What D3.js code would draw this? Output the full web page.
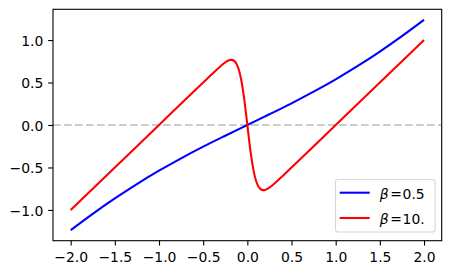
<!DOCTYPE html>
<html>
<head>
<meta charset="utf-8">
<script src="https://cdn.jsdelivr.net/npm/d3@7"></script>
<style>
  body { margin: 0; background: #fff; }
  #chart { width: 450px; height: 274px; }
  text { font-family: "DejaVu Sans", sans-serif; }
</style>
</head>
<body>
<div id="chart"></div>
<script>
// values
const xBlue = [-2, -1.75, -1.5, -1.25, -1, -0.75, -0.5, -0.25, 0, 0.25, 0.5, 0.75, 1, 1.25, 1.5, 1.75, 2];
const yBlue = [-1.238, -1.046, -0.865, -0.695, -0.538, -0.392, -0.255, -0.126, 0, 0.126, 0.255, 0.392, 0.538, 0.695, 0.865, 1.046, 1.238];

const xRed = [-2, -1.5, -1, -0.5, -0.4, -0.35, -0.3, -0.25, -0.2, -0.18, -0.15, -0.12, -0.1, -0.08, -0.06, -0.04, -0.02, 0,
              0.02, 0.04, 0.06, 0.08, 0.1, 0.12, 0.15, 0.18, 0.2, 0.25, 0.3, 0.35, 0.4, 0.5, 1, 1.5, 2];
const yRed = [-1.0, -0.5, 0.0, 0.5, 0.599, 0.648, 0.695, 0.737, 0.764, 0.767, 0.755, 0.714, 0.662, 0.584, 0.477, 0.340, 0.177, 0,
              -0.177, -0.340, -0.477, -0.584, -0.662, -0.714, -0.755, -0.767, -0.764, -0.737, -0.695, -0.648, -0.599, -0.5, 0.0, 0.5, 1.0];

const seriesLabels = ["0.5", "10."];
const seriesColors = ["blue", "red"];
const xTicks = [-2.0, -1.5, -1.0, -0.5, 0.0, 0.5, 1.0, 1.5, 2.0];
const yTicks = [-1.0, -0.5, 0.0, 0.5, 1.0];

const width = 450, height = 274;
const plotLeft = 53, plotRight = 441.7, plotTop = 9.3, plotBottom = 240.7;
const fontSize = 13.9, lw = 2.08;

const svg = d3.select("#chart").append("svg")
    .attr("width", width)
    .attr("height", height);

const x = d3.scaleLinear().domain([-2.2, 2.2]).range([plotLeft, plotRight]);
const y = d3.scaleLinear().domain([-1.362, 1.362]).range([plotBottom, plotTop]);

const fmt = d => d3.format(".1f")(d).replace("-", "\u2212");

// zero reference line
svg.append("line")
    .attr("x1", plotLeft).attr("x2", plotRight)
    .attr("y1", y(0)).attr("y2", y(0))
    .attr("stroke", "#cccccc")
    .attr("stroke-width", lw)
    .attr("stroke-dasharray", "7.7,3.3");

const line = d3.line()
    .x(d => x(d[0]))
    .y(d => y(d[1]))
    .curve(d3.curveMonotoneX);

const series = [
    d3.zip(xBlue, yBlue),
    d3.zip(xRed, yRed)
];

series.forEach((s, i) => {
    svg.append("path")
        .datum(s)
        .attr("d", line)
        .attr("fill", "none")
        .attr("stroke", seriesColors[i])
        .attr("stroke-width", lw)
        .attr("stroke-linejoin", "round");
});

// axes
const xAxis = svg.append("g")
    .attr("transform", `translate(0,${plotBottom})`)
    .call(d3.axisBottom(x).tickValues(xTicks).tickFormat(fmt).tickSize(4.86).tickPadding(4.86));

const yAxis = svg.append("g")
    .attr("transform", `translate(${plotLeft},0)`)
    .call(d3.axisLeft(y).tickValues(yTicks).tickFormat(fmt).tickSize(4.86).tickPadding(4.86));

[xAxis, yAxis].forEach(g => {
    g.select(".domain").remove();
    g.attr("font-size", null).attr("font-family", null);
    g.selectAll("text")
        .style("font-family", "'DejaVu Sans'")
        .style("font-size", fontSize + "px")
        .attr("fill", "#000");
    g.selectAll("line").attr("stroke", "#000").attr("stroke-width", 1.1);
});
xAxis.selectAll("text").attr("dy", "0.8em");
yAxis.selectAll("text").attr("dy", "0.38em");

// frame
svg.append("rect")
    .attr("x", plotLeft).attr("y", plotTop)
    .attr("width", plotRight - plotLeft).attr("height", plotBottom - plotTop)
    .attr("fill", "none")
    .attr("stroke", "#000")
    .attr("stroke-width", 1.1);

// legend
const legend = svg.append("g");
legend.append("rect")
    .attr("x", 335.5).attr("y", 179.5)
    .attr("width", 99.5).attr("height", 52.5)
    .attr("rx", 2.8)
    .attr("fill", "#fff")
    .attr("fill-opacity", 0.8)
    .attr("stroke", "#d6d6d6")
    .attr("stroke-width", 1.1);

seriesLabels.forEach((lab, i) => {
    const ly = 192.7 + i * 25.3;
    legend.append("line")
        .attr("x1", 339.7).attr("x2", 369.7)
        .attr("y1", ly).attr("y2", ly)
        .attr("stroke", seriesColors[i])
        .attr("stroke-width", lw);
    const t = legend.append("text")
        .attr("y", ly + 6.3)
        .style("font-size", fontSize + "px")
        .attr("fill", "#000");
    t.append("tspan").attr("x", 379.8).attr("font-style", "italic").text("\u03B2");
    t.append("tspan").attr("x", 390.2).text("=");
    t.append("tspan").attr("x", 402.6).text(lab);
});
</script>
</body>
</html>
